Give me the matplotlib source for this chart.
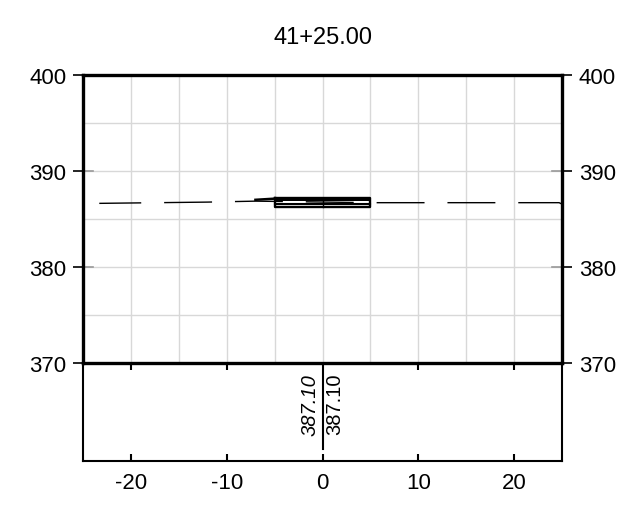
import numpy as np
import matplotlib
matplotlib.use("Agg")
import matplotlib.pyplot as plt

plt.rcParams['font.family'] = ['Liberation Sans', 'DejaVu Sans']
plt.rcParams['axes.unicode_minus'] = False

title = "41+25.00"

# existing ground line (offset, elevation)
ground_x = [-23.3, -12.0, -7.0, 5.0, 15.0, 24.7, 25.0]
ground_y = [386.63, 386.76, 386.86, 386.70, 386.70, 386.70, 386.55]

# proposed section
slab_x = [-5.0, 5.0]
slab_top = 387.22
slab_mid = 386.84
slab_line = 386.56
slab_bot = 386.25
approach_x = [-7.0, -5.0]
approach_y = [387.0, 387.12]

# labels under the section
label_x = 0.0
design_label = "387.10"
exist_label = "387.10"

xticks = [-20, -10, 0, 10, 20]
yticks = [370, 380, 390, 400]

fig = plt.figure(figsize=(6.24, 5.06), dpi=100)
axb = fig.add_axes([83/624, 1-462/506, 479/624, 98/506])
ax = fig.add_axes([83/624, 1-364/506, 479/624, 288/506])
ax.set_zorder(3)

ax.set_xlim(-25, 25)
ax.set_ylim(370, 400)
ax.set_xticks(np.arange(-25, 26, 5))
ax.grid(True, color='#d8d8d8', lw=1)
ax.set_axisbelow(True)
ax.set_xticklabels([])
ax.tick_params(axis='x', length=0)
ax.set_yticks(yticks)
ax.set_yticks(np.arange(370, 401, 5), minor=True)
ax.tick_params(axis='y', which='major', direction='out', length=7, width=1.2,
               labelsize=16, left=True, right=True, labelleft=True, labelright=True, pad=5)
ax.tick_params(axis='y', which='minor', length=0)
ax.yaxis.grid(True, which='minor', color='#d8d8d8', lw=1)
for s in ax.spines.values():
    s.set_linewidth(2.4)

# short grey inward marks at the inner ticks
for yv in [380, 390]:
    ax.plot([0, 0.02], [yv, yv], color='#999999', lw=1.2, transform=ax.get_yaxis_transform())
    ax.plot([0.98, 1], [yv, yv], color='#999999', lw=1.2, transform=ax.get_yaxis_transform())

ax.plot(ground_x, ground_y, color='black', lw=1,
        linestyle=(4.3, (34.5, 16.5)))

ax.fill_between(slab_x, slab_mid, slab_top, color='black', lw=0)
ax.plot([slab_x[0], slab_x[1], slab_x[1], slab_x[0], slab_x[0]],
        [slab_top, slab_top, slab_bot, slab_bot, slab_top], color='black', lw=1.7)
ax.plot(slab_x, [slab_line, slab_line], color='black', lw=1.5)
ax.plot([0, 0], [slab_bot, slab_top], color='black', lw=1)
ax.plot(approach_x, approach_y, color='black', lw=1.8)

ax.set_title(title, fontsize=17, pad=23)

# bottom strip
axb.patch.set_visible(False)
axb.set_xlim(-25, 25)
axb.set_ylim(0, 1)
axb.set_yticks([])
axb.set_xticks(xticks)
axb.tick_params(axis='x', direction='in', length=5, width=1.5, top=True, labelsize=16, pad=8)
axb.spines['top'].set_visible(False)
for k in ['left', 'right', 'bottom']:
    axb.spines[k].set_linewidth(1.5)

axb.plot([label_x, label_x], [0.12, 0.92], color='black', lw=1.5)
axb.text(label_x - 0.3, 0.9, design_label, rotation=90, ha='right', va='top',
         fontsize=14.5, style='italic')
axb.text(label_x + 0.3, 0.9, exist_label, rotation=90, ha='left', va='top',
         fontsize=14.5)

fig.savefig("out.png", dpi=100)
